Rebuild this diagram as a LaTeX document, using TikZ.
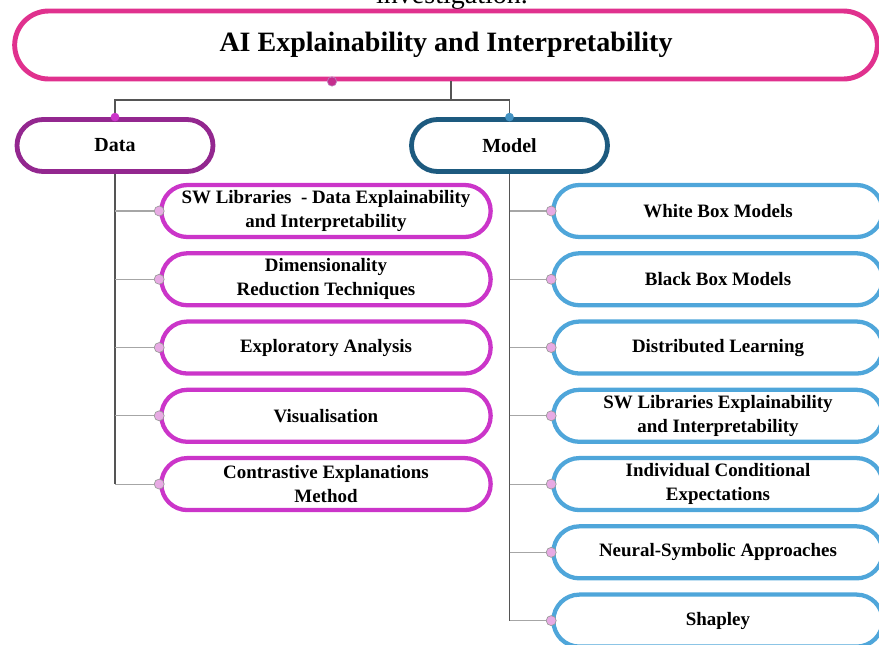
\documentclass[tikz,border=0pt]{standalone}
\usepackage{fontspec}
\setmainfont{Liberation Serif}
\usetikzlibrary{positioning,shapes.misc}

\definecolor{rootpink}{HTML}{E0318E}
\definecolor{datapurple}{HTML}{93278F}
\definecolor{modelblue}{HTML}{1D5A7F}
\definecolor{leafmagenta}{HTML}{CB35C9}
\definecolor{leafblue}{HTML}{4FA6DA}
\definecolor{knobpink}{HTML}{E8AAE4}
\definecolor{linkgray}{HTML}{555555}

\tikzset{
  pill/.style={rounded rectangle, draw, fill=white, align=center, inner sep=2pt},
  rootpill/.style={pill, draw=rootpink, line width=3.7pt, minimum width=651pt,
                   minimum height=51pt, font=\fontsize{21}{25}\selectfont\bfseries},
  branchpill/.style={pill, line width=3.6pt, minimum width=151pt, minimum height=39pt,
                     font=\fontsize{15}{18}\selectfont\bfseries},
  leafpill/.style={pill, line width=3.2pt, minimum width=251pt, minimum height=39pt,
                   font=\fontsize{14.2}{18}\selectfont\bfseries},
  dataleaf/.style={leafpill, draw=leafmagenta},
  modelleaf/.style={leafpill, draw=leafblue},
  link/.style={draw=linkgray, line width=0.8pt},
  twig/.style={draw=gray!70, line width=0.8pt},
  knob/.style={circle, draw=gray!80, fill=knobpink, inner sep=0pt, minimum size=7.5pt, line width=0.5pt},
  dot/.style={circle, inner sep=0pt, minimum size=6.5pt},
}

\begin{document}
\begin{tikzpicture}[x=0.75pt, y=-0.75pt, node distance=9pt]
  \clip (0,0) rectangle (879,644);

  \node[font=\fontsize{21}{25}\selectfont, anchor=base] (cap) at (452,3) {investigation.};

  % top of the tree
  \node[rootpill] (root) at (446,45) {AI Explainability and Interpretability};
  \node[branchpill, draw=datapurple] (data) at (115,145.5) {Data};
  \node[branchpill, draw=modelblue] (model) at (509.5,145.5) {Model};

  % data side
  \node[dataleaf] (d1) at (326,211) {SW Libraries \ - Data Explainability\\and Interpretability};
  \node[dataleaf, below=of d1] (d2) {Dimensionality\\Reduction Techniques};
  \node[dataleaf, below=of d2] (d3) {Exploratory Analysis};
  \node[dataleaf, below=of d3] (d4) {Visualisation};
  \node[dataleaf, below=of d4] (d5) {Contrastive Explanations\\Method};

  % model side
  \node[modelleaf] (m1) at (718,211) {White Box Models};
  \node[modelleaf, below=of m1] (m2) {Black Box Models};
  \node[modelleaf, below=of m2] (m3) {Distributed Learning};
  \node[modelleaf, below=of m3] (m4) {SW Libraries Explainability\\and Interpretability};
  \node[modelleaf, below=of m4] (m5) {Individual Conditional\\Expectations};
  \node[modelleaf, below=of m5] (m6) {Neural-Symbolic Approaches};
  \node[modelleaf, below=of m6] (m7) {Shapley};

  % connectors
  \coordinate (fork) at (451,100);
  \draw[link] (root.south -| fork) -- (fork);
  \draw[link] (data.north) |- (fork) -| (model.north);
  \draw[link] (data.south) -- (data.south |- d5.west);
  \draw[link] (model.south) -- (model.south |- m7.west);
  \foreach \i in {1,...,5}
    \draw[twig] (data.south |- d\i.west) -- (d\i.west);
  \foreach \i in {1,...,7}
    \draw[twig] (model.south |- m\i.west) -- (m\i.west);

  % knobs
  \node[dot, draw=datapurple!60, line width=0.5pt, fill=rootpink!65!datapurple, minimum size=7pt] (rk) at ([xshift=-85.5pt]root.south) {};
  \node[dot, fill=leafmagenta] (dk) at (data.north) {};
  \node[dot, fill=leafblue!75!modelblue] (mk) at (model.north) {};
  \foreach \i in {1,...,5}
    \node[knob] (dk\i) at (d\i.west) {};
  \foreach \i in {1,...,7}
    \node[knob] (mk\i) at (m\i.west) {};
\end{tikzpicture}
\end{document}
